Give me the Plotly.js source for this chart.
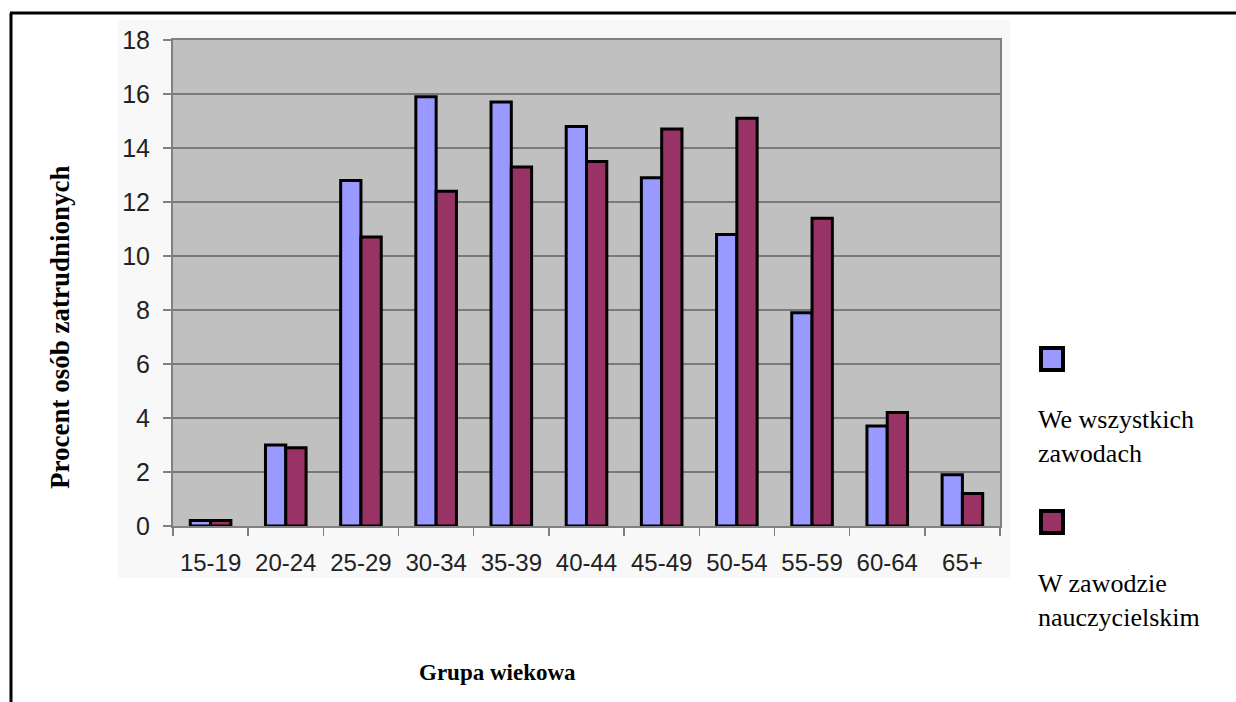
<!DOCTYPE html>
<html>
<head>
<meta charset="utf-8">
<script src="https://cdn.plot.ly/plotly-3.0.1.min.js"></script>
<style>html,body{margin:0;padding:0;background:#fff;}#chart{width:1236px;height:702px;}</style>
</head>
<body>
<div id="chart"></div>
<script>
// ---- data ----
const ageGroups = ['15-19','20-24','25-29','30-34','35-39','40-44','45-49','50-54','55-59','60-64','65+'];
const allOccupations = [0.2, 3.0, 12.8, 15.9, 15.7, 14.8, 12.9, 10.8, 7.9, 3.7, 1.9];
const teachers = [0.2, 2.9, 10.7, 12.4, 13.3, 13.5, 14.7, 15.1, 11.4, 4.2, 1.2];
const seriesNames = ['We wszystkich<br>zawodach', 'W zawodzie<br>nauczycielskim'];
const seriesColors = ['#9999ff', '#993366'];
const yTitle = 'Procent osób zatrudnionych';
const xTitle = 'Grupa wiekowa';

// ---- layout geometry (pixels) ----
const W = 1236, H = 702;
const M = {l: 173, r: 236, t: 40, b: 176};
const PW = W - M.l - M.r, PH = H - M.t - M.b;
const px = x => (x - M.l) / PW;
const py = y => (H - M.b - y) / PH;

const serif = "'Liberation Serif', 'Times New Roman', serif";
const sans = "'Liberation Sans', Arial, sans-serif";

const traces = [allOccupations, teachers].map((vals, i) => ({
  type: 'bar',
  x: ageGroups,
  y: vals,
  name: seriesNames[i],
  marker: {color: seriesColors[i], line: {color: '#000', width: 3}},
  showlegend: false,
  hoverinfo: 'x+y'
}));

const shapes = [
  // light backdrop of the pasted chart image
  {type: 'rect', xref: 'paper', yref: 'paper', x0: px(118), x1: px(1010), y0: py(578), y1: py(20),
   fillcolor: '#f8f8f8', line: {width: 0}, layer: 'below'},
  // grey plot area on top of the backdrop
  {type: 'rect', xref: 'paper', yref: 'paper', x0: 0, x1: 1, y0: 0, y1: 1,
   fillcolor: '#c0c0c0', line: {width: 0}, layer: 'below'},
  // document frame: top and left lines
  {type: 'line', xref: 'paper', yref: 'paper', x0: px(10), x1: px(1240), y0: py(13), y1: py(13),
   line: {color: '#000', width: 3}},
  {type: 'line', xref: 'paper', yref: 'paper', x0: px(11), x1: px(11), y0: py(13), y1: py(710),
   line: {color: '#000', width: 3}}
];

const annotations = [
  {xref: 'paper', yref: 'paper', x: px(60), y: py(327), text: '<b>' + yTitle + '</b>', textangle: -90,
   showarrow: false, font: {family: serif, size: 27, color: '#000'}, xanchor: 'center', yanchor: 'middle'},
  {xref: 'paper', yref: 'paper', x: px(497), y: py(672), text: '<b>' + xTitle + '</b>',
   showarrow: false, font: {family: serif, size: 23, color: '#000'}, xanchor: 'center', yanchor: 'middle'}
];

// custom legend: square above the two-line label
const legendSquares = [347, 510];
const legendText = [403, 567];
seriesNames.forEach((nm, i) => {
  shapes.push({type: 'rect', xref: 'paper', yref: 'paper',
    x0: px(1041), x1: px(1063), y0: py(legendSquares[i] + 23), y1: py(legendSquares[i] + 1),
    fillcolor: seriesColors[i], line: {color: '#000', width: 4}});
  annotations.push({xref: 'paper', yref: 'paper', x: px(1036), y: py(legendText[i]), text: nm,
    showarrow: false, align: 'left', xanchor: 'left', yanchor: 'top',
    font: {family: serif, size: 26, color: '#000'}});
});

const layout = {
  width: W, height: H,
  margin: M,
  paper_bgcolor: '#ffffff',
  plot_bgcolor: 'rgba(0,0,0,0)',
  barmode: 'group',
  bargap: 0.46,
  bargroupgap: 0,
  showlegend: false,
  xaxis: {
    type: 'category',
    tickson: 'boundaries',
    ticks: 'outside', ticklen: 8, tickcolor: '#808080', tickwidth: 1.5,
    ticklabelstandoff: 14,
    showline: true, linecolor: '#808080', linewidth: 2, mirror: true,
    showgrid: false, zeroline: false,
    tickfont: {family: sans, size: 24, color: '#222'},
    fixedrange: true
  },
  yaxis: {
    range: [0, 18], dtick: 2, tick0: 0,
    ticks: 'outside', ticklen: 8, tickcolor: '#808080', tickwidth: 1.5,
    ticklabelstandoff: 8,
    showline: true, linecolor: '#808080', linewidth: 2, mirror: true,
    showgrid: true, gridcolor: '#7a7a7a', gridwidth: 1.5,
    zeroline: false,
    tickfont: {family: sans, size: 25, color: '#222'},
    fixedrange: true
  },
  shapes: shapes,
  annotations: annotations
};

Plotly.newPlot('chart', traces, layout, {displayModeBar: false, staticPlot: true});
</script>
</body>
</html>
